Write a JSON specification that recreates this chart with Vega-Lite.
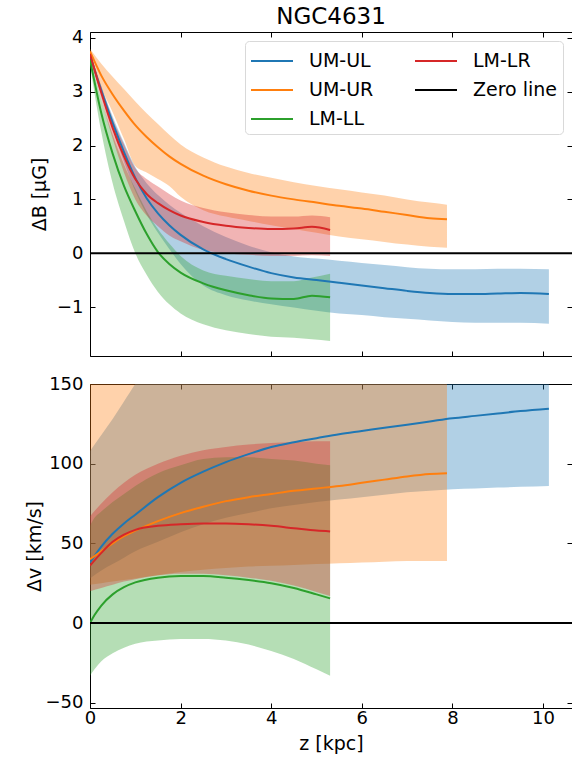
{
 "$schema": "https://vega.github.io/schema/vega-lite/v6.json",
 "padding": {"left": 24, "top": 5, "right": 0, "bottom": 0},
 "background": "white",
 "config": {
  "font": "DejaVu Sans",
  "view": {"stroke": "black", "strokeWidth": 1},
  "axis": {"grid": false, "domain": false, "labelFlush": false, "tickColor": "black", "tickSize": -5, "tickWidth": 1, "labelFontSize": 18, "labelColor": "black", "titleFontSize": 19, "titleColor": "black", "titleFontWeight": "normal", "labelFont": "DejaVu Sans", "titleFont": "DejaVu Sans"},
  "title": {"font": "DejaVu Sans", "fontSize": 23, "fontWeight": "normal", "color": "black"}
 },
 "datasets": {
  "d": [
   {"p":"B","s":"UM-UL","z":0,"y":3.68,"lo":3.63,"hi":3.73},
   {"p":"B","s":"UM-UL","z":0.25,"y":3.02,"lo":2.94,"hi":3.1},
   {"p":"B","s":"UM-UL","z":0.5,"y":2.42,"lo":2.3,"hi":2.54},
   {"p":"B","s":"UM-UL","z":0.75,"y":1.88,"lo":1.7,"hi":2.05},
   {"p":"B","s":"UM-UL","z":1.0,"y":1.4,"lo":1.15,"hi":1.6},
   {"p":"B","s":"UM-UL","z":1.25,"y":1.02,"lo":0.72,"hi":1.3},
   {"p":"B","s":"UM-UL","z":1.5,"y":0.74,"lo":0.38,"hi":1.08},
   {"p":"B","s":"UM-UL","z":1.75,"y":0.52,"lo":0.08,"hi":0.9},
   {"p":"B","s":"UM-UL","z":2.0,"y":0.34,"lo":-0.2,"hi":0.75},
   {"p":"B","s":"UM-UL","z":2.5,"y":0.07,"lo":-0.6,"hi":0.5},
   {"p":"B","s":"UM-UL","z":3.0,"y":-0.11,"lo":-0.78,"hi":0.3},
   {"p":"B","s":"UM-UL","z":3.5,"y":-0.25,"lo":-0.88,"hi":0.14},
   {"p":"B","s":"UM-UL","z":4.0,"y":-0.37,"lo":-0.95,"hi":0.02},
   {"p":"B","s":"UM-UL","z":4.5,"y":-0.45,"lo":-1.01,"hi":-0.06},
   {"p":"B","s":"UM-UL","z":5.0,"y":-0.5,"lo":-1.07,"hi":-0.1},
   {"p":"B","s":"UM-UL","z":5.5,"y":-0.55,"lo":-1.12,"hi":-0.14},
   {"p":"B","s":"UM-UL","z":6.0,"y":-0.6,"lo":-1.15,"hi":-0.18},
   {"p":"B","s":"UM-UL","z":6.5,"y":-0.65,"lo":-1.19,"hi":-0.22},
   {"p":"B","s":"UM-UL","z":7.0,"y":-0.7,"lo":-1.22,"hi":-0.26},
   {"p":"B","s":"UM-UL","z":7.5,"y":-0.74,"lo":-1.25,"hi":-0.29},
   {"p":"B","s":"UM-UL","z":8.0,"y":-0.76,"lo":-1.28,"hi":-0.3},
   {"p":"B","s":"UM-UL","z":8.5,"y":-0.76,"lo":-1.29,"hi":-0.3},
   {"p":"B","s":"UM-UL","z":9.0,"y":-0.75,"lo":-1.29,"hi":-0.29},
   {"p":"B","s":"UM-UL","z":9.5,"y":-0.74,"lo":-1.29,"hi":-0.29},
   {"p":"B","s":"UM-UL","z":10.13,"y":-0.76,"lo":-1.31,"hi":-0.3},

   {"p":"B","s":"UM-UR","z":0,"y":3.75,"lo":3.7,"hi":3.8},
   {"p":"B","s":"UM-UR","z":0.25,"y":3.3,"lo":3.08,"hi":3.52},
   {"p":"B","s":"UM-UR","z":0.5,"y":2.95,"lo":2.62,"hi":3.28},
   {"p":"B","s":"UM-UR","z":0.75,"y":2.65,"lo":2.12,"hi":3.05},
   {"p":"B","s":"UM-UR","z":1.0,"y":2.38,"lo":1.62,"hi":2.82},
   {"p":"B","s":"UM-UR","z":1.25,"y":2.16,"lo":1.5,"hi":2.6},
   {"p":"B","s":"UM-UR","z":1.5,"y":1.97,"lo":1.38,"hi":2.4},
   {"p":"B","s":"UM-UR","z":1.75,"y":1.8,"lo":1.25,"hi":2.2},
   {"p":"B","s":"UM-UR","z":2.0,"y":1.66,"lo":1.05,"hi":2.02},
   {"p":"B","s":"UM-UR","z":2.5,"y":1.44,"lo":0.8,"hi":1.78},
   {"p":"B","s":"UM-UR","z":3.0,"y":1.28,"lo":0.68,"hi":1.61},
   {"p":"B","s":"UM-UR","z":3.5,"y":1.16,"lo":0.6,"hi":1.49},
   {"p":"B","s":"UM-UR","z":4.0,"y":1.07,"lo":0.52,"hi":1.4},
   {"p":"B","s":"UM-UR","z":4.5,"y":1.0,"lo":0.45,"hi":1.32},
   {"p":"B","s":"UM-UR","z":5.0,"y":0.94,"lo":0.38,"hi":1.25},
   {"p":"B","s":"UM-UR","z":5.5,"y":0.88,"lo":0.31,"hi":1.19},
   {"p":"B","s":"UM-UR","z":6.0,"y":0.83,"lo":0.26,"hi":1.13},
   {"p":"B","s":"UM-UR","z":6.5,"y":0.77,"lo":0.21,"hi":1.07},
   {"p":"B","s":"UM-UR","z":7.0,"y":0.71,"lo":0.16,"hi":1.0},
   {"p":"B","s":"UM-UR","z":7.5,"y":0.65,"lo":0.12,"hi":0.94},
   {"p":"B","s":"UM-UR","z":7.88,"y":0.63,"lo":0.1,"hi":0.9},

   {"p":"B","s":"LM-LL","z":0,"y":3.6,"lo":3.5,"hi":3.68},
   {"p":"B","s":"LM-LL","z":0.25,"y":2.6,"lo":2.25,"hi":2.85},
   {"p":"B","s":"LM-LL","z":0.5,"y":1.85,"lo":1.3,"hi":2.2},
   {"p":"B","s":"LM-LL","z":0.75,"y":1.25,"lo":0.6,"hi":1.65},
   {"p":"B","s":"LM-LL","z":1.0,"y":0.78,"lo":0.0,"hi":1.2},
   {"p":"B","s":"LM-LL","z":1.25,"y":0.36,"lo":-0.4,"hi":0.78},
   {"p":"B","s":"LM-LL","z":1.5,"y":0.02,"lo":-0.72,"hi":0.45},
   {"p":"B","s":"LM-LL","z":1.75,"y":-0.2,"lo":-0.95,"hi":0.18},
   {"p":"B","s":"LM-LL","z":2.0,"y":-0.36,"lo":-1.12,"hi":-0.05},
   {"p":"B","s":"LM-LL","z":2.5,"y":-0.56,"lo":-1.32,"hi":-0.32},
   {"p":"B","s":"LM-LL","z":3.0,"y":-0.69,"lo":-1.43,"hi":-0.42},
   {"p":"B","s":"LM-LL","z":3.5,"y":-0.78,"lo":-1.5,"hi":-0.48},
   {"p":"B","s":"LM-LL","z":4.0,"y":-0.84,"lo":-1.55,"hi":-0.52},
   {"p":"B","s":"LM-LL","z":4.5,"y":-0.85,"lo":-1.57,"hi":-0.52},
   {"p":"B","s":"LM-LL","z":4.9,"y":-0.79,"lo":-1.6,"hi":-0.45},
   {"p":"B","s":"LM-LL","z":5.3,"y":-0.82,"lo":-1.63,"hi":-0.38},

   {"p":"B","s":"LM-LR","z":0,"y":3.7,"lo":3.65,"hi":3.75},
   {"p":"B","s":"LM-LR","z":0.25,"y":2.98,"lo":2.86,"hi":3.1},
   {"p":"B","s":"LM-LR","z":0.5,"y":2.33,"lo":2.13,"hi":2.5},
   {"p":"B","s":"LM-LR","z":0.75,"y":1.8,"lo":1.5,"hi":2.02},
   {"p":"B","s":"LM-LR","z":1.0,"y":1.38,"lo":1.0,"hi":1.58},
   {"p":"B","s":"LM-LR","z":1.25,"y":1.1,"lo":0.7,"hi":1.38},
   {"p":"B","s":"LM-LR","z":1.5,"y":0.93,"lo":0.5,"hi":1.24},
   {"p":"B","s":"LM-LR","z":1.75,"y":0.8,"lo":0.33,"hi":1.1},
   {"p":"B","s":"LM-LR","z":2.0,"y":0.7,"lo":0.22,"hi":0.98},
   {"p":"B","s":"LM-LR","z":2.5,"y":0.58,"lo":0.06,"hi":0.84},
   {"p":"B","s":"LM-LR","z":3.0,"y":0.51,"lo":0.0,"hi":0.76},
   {"p":"B","s":"LM-LR","z":3.5,"y":0.47,"lo":-0.03,"hi":0.71},
   {"p":"B","s":"LM-LR","z":4.0,"y":0.45,"lo":-0.05,"hi":0.68},
   {"p":"B","s":"LM-LR","z":4.5,"y":0.46,"lo":-0.05,"hi":0.68},
   {"p":"B","s":"LM-LR","z":4.9,"y":0.49,"lo":-0.04,"hi":0.7},
   {"p":"B","s":"LM-LR","z":5.3,"y":0.43,"lo":-0.05,"hi":0.67},

   {"p":"B","s":"Zero line","z":0,"y":0},
   {"p":"B","s":"Zero line","z":10.64,"y":0},

   {"p":"v","s":"UM-UL","z":0,"y":38,"lo":28,"hi":108},
   {"p":"v","s":"UM-UL","z":0.25,"y":48,"lo":33,"hi":118},
   {"p":"v","s":"UM-UL","z":0.5,"y":56,"lo":37,"hi":128},
   {"p":"v","s":"UM-UL","z":0.75,"y":62.5,"lo":41,"hi":139},
   {"p":"v","s":"UM-UL","z":1.0,"y":68,"lo":45,"hi":150},
   {"p":"v","s":"UM-UL","z":1.5,"y":79,"lo":51,"hi":168},
   {"p":"v","s":"UM-UL","z":2.0,"y":88,"lo":57,"hi":185},
   {"p":"v","s":"UM-UL","z":2.5,"y":95,"lo":62,"hi":198},
   {"p":"v","s":"UM-UL","z":3.0,"y":101,"lo":66,"hi":208},
   {"p":"v","s":"UM-UL","z":3.5,"y":106,"lo":69,"hi":216},
   {"p":"v","s":"UM-UL","z":4.0,"y":110.5,"lo":72,"hi":222},
   {"p":"v","s":"UM-UL","z":4.5,"y":113.5,"lo":74,"hi":227},
   {"p":"v","s":"UM-UL","z":5.0,"y":116,"lo":76,"hi":231},
   {"p":"v","s":"UM-UL","z":5.5,"y":118.5,"lo":77.5,"hi":235},
   {"p":"v","s":"UM-UL","z":6.0,"y":120.5,"lo":79,"hi":238},
   {"p":"v","s":"UM-UL","z":6.5,"y":122.5,"lo":80.5,"hi":240},
   {"p":"v","s":"UM-UL","z":7.0,"y":124.5,"lo":82,"hi":242},
   {"p":"v","s":"UM-UL","z":7.5,"y":126.5,"lo":83,"hi":244},
   {"p":"v","s":"UM-UL","z":8.0,"y":128.5,"lo":84,"hi":246},
   {"p":"v","s":"UM-UL","z":8.5,"y":130,"lo":84.5,"hi":248},
   {"p":"v","s":"UM-UL","z":9.0,"y":131.5,"lo":85,"hi":249},
   {"p":"v","s":"UM-UL","z":9.5,"y":133,"lo":85.5,"hi":250},
   {"p":"v","s":"UM-UL","z":10.13,"y":134.5,"lo":86,"hi":252},

   {"p":"v","s":"UM-UR","z":0,"y":40,"lo":24,"hi":165},
   {"p":"v","s":"UM-UR","z":0.25,"y":45,"lo":25,"hi":170},
   {"p":"v","s":"UM-UR","z":0.5,"y":50,"lo":26,"hi":175},
   {"p":"v","s":"UM-UR","z":0.75,"y":54.5,"lo":27,"hi":180},
   {"p":"v","s":"UM-UR","z":1.0,"y":58,"lo":28,"hi":185},
   {"p":"v","s":"UM-UR","z":1.5,"y":64,"lo":30,"hi":192},
   {"p":"v","s":"UM-UR","z":2.0,"y":69,"lo":32,"hi":198},
   {"p":"v","s":"UM-UR","z":2.5,"y":73,"lo":33.5,"hi":203},
   {"p":"v","s":"UM-UR","z":3.0,"y":76.5,"lo":34.5,"hi":207},
   {"p":"v","s":"UM-UR","z":3.5,"y":79,"lo":35.5,"hi":210},
   {"p":"v","s":"UM-UR","z":4.0,"y":81,"lo":36,"hi":213},
   {"p":"v","s":"UM-UR","z":4.5,"y":83,"lo":36.5,"hi":215},
   {"p":"v","s":"UM-UR","z":5.0,"y":84.5,"lo":37,"hi":217},
   {"p":"v","s":"UM-UR","z":5.5,"y":86,"lo":37.5,"hi":219},
   {"p":"v","s":"UM-UR","z":6.0,"y":88,"lo":38,"hi":221},
   {"p":"v","s":"UM-UR","z":6.5,"y":90,"lo":38.5,"hi":222},
   {"p":"v","s":"UM-UR","z":7.0,"y":92,"lo":39,"hi":223},
   {"p":"v","s":"UM-UR","z":7.5,"y":93.5,"lo":39,"hi":224},
   {"p":"v","s":"UM-UR","z":7.88,"y":94,"lo":39,"hi":225},

   {"p":"v","s":"LM-LL","z":0,"y":0,"lo":-33,"hi":61},
   {"p":"v","s":"LM-LL","z":0.1,"y":5,"lo":-29,"hi":66},
   {"p":"v","s":"LM-LL","z":0.25,"y":11,"lo":-24,"hi":70},
   {"p":"v","s":"LM-LL","z":0.5,"y":18,"lo":-19,"hi":76},
   {"p":"v","s":"LM-LL","z":0.75,"y":22.5,"lo":-15.5,"hi":81},
   {"p":"v","s":"LM-LL","z":1.0,"y":25.5,"lo":-13,"hi":86},
   {"p":"v","s":"LM-LL","z":1.5,"y":28.5,"lo":-11,"hi":94},
   {"p":"v","s":"LM-LL","z":2.0,"y":29.5,"lo":-10,"hi":99},
   {"p":"v","s":"LM-LL","z":2.5,"y":29.5,"lo":-10,"hi":103},
   {"p":"v","s":"LM-LL","z":3.0,"y":28.5,"lo":-11,"hi":104},
   {"p":"v","s":"LM-LL","z":3.5,"y":27,"lo":-13.5,"hi":104},
   {"p":"v","s":"LM-LL","z":4.0,"y":25,"lo":-17.5,"hi":103},
   {"p":"v","s":"LM-LL","z":4.5,"y":22,"lo":-22.5,"hi":102},
   {"p":"v","s":"LM-LL","z":5.0,"y":18,"lo":-29,"hi":100},
   {"p":"v","s":"LM-LL","z":5.3,"y":15.5,"lo":-33,"hi":99},

   {"p":"v","s":"LM-LR","z":0,"y":36,"lo":20,"hi":67},
   {"p":"v","s":"LM-LR","z":0.25,"y":44,"lo":22,"hi":75},
   {"p":"v","s":"LM-LR","z":0.5,"y":51,"lo":24,"hi":82},
   {"p":"v","s":"LM-LR","z":0.75,"y":55.5,"lo":26,"hi":88},
   {"p":"v","s":"LM-LR","z":1.0,"y":58.5,"lo":27.5,"hi":93},
   {"p":"v","s":"LM-LR","z":1.5,"y":61,"lo":30,"hi":100},
   {"p":"v","s":"LM-LR","z":2.0,"y":62,"lo":31,"hi":105},
   {"p":"v","s":"LM-LR","z":2.5,"y":62.5,"lo":31,"hi":108.5},
   {"p":"v","s":"LM-LR","z":3.0,"y":62.5,"lo":30,"hi":110.5},
   {"p":"v","s":"LM-LR","z":3.5,"y":62,"lo":28.5,"hi":112},
   {"p":"v","s":"LM-LR","z":4.0,"y":61,"lo":26.5,"hi":113},
   {"p":"v","s":"LM-LR","z":4.5,"y":59.5,"lo":23.5,"hi":113.5},
   {"p":"v","s":"LM-LR","z":5.0,"y":58,"lo":19.5,"hi":114},
   {"p":"v","s":"LM-LR","z":5.3,"y":57.5,"lo":17,"hi":114},

   {"p":"v","s":"Zero line","z":0,"y":0},
   {"p":"v","s":"Zero line","z":10.64,"y":0}
  ]
 },
 "resolve": {"scale": {"color": "independent", "fill": "independent"}, "legend": {"color": "independent", "fill": "independent"}},
 "spacing": 28,
 "bounds": "flush",
 "vconcat": [
  {
   "width": 482, "height": 324,
   "title": {"text": "NGC4631", "offset": 0},
   "data": {"name": "d"},
   "transform": [{"filter": "datum.p == 'B'"}],
   "resolve": {"axis": {"x": "independent", "y": "independent"}},
   "layer": [
    {
     "mark": {"type": "area", "opacity": 0.35, "interpolate": "monotone", "clip": true},
     "transform": [{"filter": "datum.s != 'Zero line'"}],
     "encoding": {
      "x": {"field": "z", "type": "quantitative", "scale": {"domain": [0, 10.64], "nice": false, "zero": false}, "axis": {"values": [0, 2, 4, 6, 8, 10], "labels": false, "title": null, "minExtent": 0, "maxExtent": 0}},
      "y": {"field": "lo", "type": "quantitative", "scale": {"domain": [-1.91, 4.11], "nice": false, "zero": false}, "axis": {"values": [-1, 0, 1, 2, 3, 4], "title": "ΔB [μG]", "labelPadding": 12, "minExtent": 34, "maxExtent": 34, "titlePadding": 7}},
      "y2": {"field": "hi"},
      "fill": {"field": "s", "type": "nominal", "scale": {"domain": ["UM-UL", "UM-UR", "LM-LL", "LM-LR"], "range": ["#1f77b4", "#ff7f0e", "#2ca02c", "#d62728"]}, "legend": null}
     }
    },
    {
     "mark": {"type": "line", "strokeWidth": 2, "interpolate": "monotone", "clip": true},
     "encoding": {
      "x": {"field": "z", "type": "quantitative", "axis": null},
      "y": {"field": "y", "type": "quantitative", "axis": null},
      "color": {"field": "s", "type": "nominal", "scale": {"domain": ["UM-UL", "UM-UR", "LM-LL", "LM-LR", "Zero line"], "range": ["#1f77b4", "#ff7f0e", "#2ca02c", "#d62728", "#000000"]},
       "legend": {"orient": "top-right", "offset": 9, "columns": 2, "title": null, "symbolType": "M-1,0H2", "symbolStrokeWidth": 2, "symbolSize": 784, "labelFontSize": 19, "labelFont": "DejaVu Sans", "labelColor": "black", "labelOffset": 29, "columnPadding": 37, "rowPadding": 4, "padding": 5, "strokeColor": "#d9d9d9", "fillColor": "white", "cornerRadius": 4, "labelLimit": 300}}
     }
    },
    {
     "mark": {"type": "line", "opacity": 0},
     "transform": [{"filter": "datum.s == 'Zero line'"}],
     "encoding": {
      "x": {"field": "z", "type": "quantitative", "axis": {"orient": "top", "values": [0, 2, 4, 6, 8, 10], "labels": false, "title": null, "minExtent": 0, "maxExtent": 0}},
      "y": {"field": "y", "type": "quantitative", "axis": {"orient": "right", "values": [-1, 0, 1, 2, 3, 4], "labels": false, "title": null, "minExtent": 0, "maxExtent": 0}}
     }
    }
   ]
  },
  {
   "width": 482, "height": 324,
   "data": {"name": "d"},
   "transform": [{"filter": "datum.p == 'v'"}],
   "resolve": {"axis": {"x": "independent", "y": "independent"}},
   "layer": [
    {
     "mark": {"type": "area", "opacity": 0.35, "interpolate": "monotone", "clip": true},
     "transform": [{"filter": "datum.s != 'Zero line'"}],
     "encoding": {
      "x": {"field": "z", "type": "quantitative", "scale": {"domain": [0, 10.64], "nice": false, "zero": false}, "axis": {"values": [0, 2, 4, 6, 8, 10], "title": "z [kpc]", "labelPadding": 6, "minExtent": 22, "maxExtent": 22, "titlePadding": 4}},
      "y": {"field": "lo", "type": "quantitative", "scale": {"domain": [-53.3, 150], "nice": false, "zero": false}, "axis": {"values": [-50, 0, 50, 100, 150], "title": "Δv [km/s]", "labelPadding": 12, "minExtent": 40, "maxExtent": 40, "titlePadding": 6}},
      "y2": {"field": "hi"},
      "fill": {"field": "s", "type": "nominal", "scale": {"domain": ["UM-UL", "UM-UR", "LM-LL", "LM-LR"], "range": ["#1f77b4", "#ff7f0e", "#2ca02c", "#d62728"]}, "legend": null}
     }
    },
    {
     "mark": {"type": "line", "strokeWidth": 2, "interpolate": "monotone", "clip": true},
     "encoding": {
      "x": {"field": "z", "type": "quantitative", "axis": null},
      "y": {"field": "y", "type": "quantitative", "axis": null},
      "color": {"field": "s", "type": "nominal", "scale": {"domain": ["UM-UL", "UM-UR", "LM-LL", "LM-LR", "Zero line"], "range": ["#1f77b4", "#ff7f0e", "#2ca02c", "#d62728", "#000000"]}, "legend": null}
     }
    },
    {
     "mark": {"type": "line", "opacity": 0},
     "transform": [{"filter": "datum.s == 'Zero line'"}],
     "encoding": {
      "x": {"field": "z", "type": "quantitative", "axis": {"orient": "top", "values": [0, 2, 4, 6, 8, 10], "labels": false, "title": null, "minExtent": 0, "maxExtent": 0}},
      "y": {"field": "y", "type": "quantitative", "axis": {"orient": "right", "values": [-50, 0, 50, 100, 150], "labels": false, "title": null, "minExtent": 0, "maxExtent": 0}}
     }
    }
   ]
  }
 ]
}
